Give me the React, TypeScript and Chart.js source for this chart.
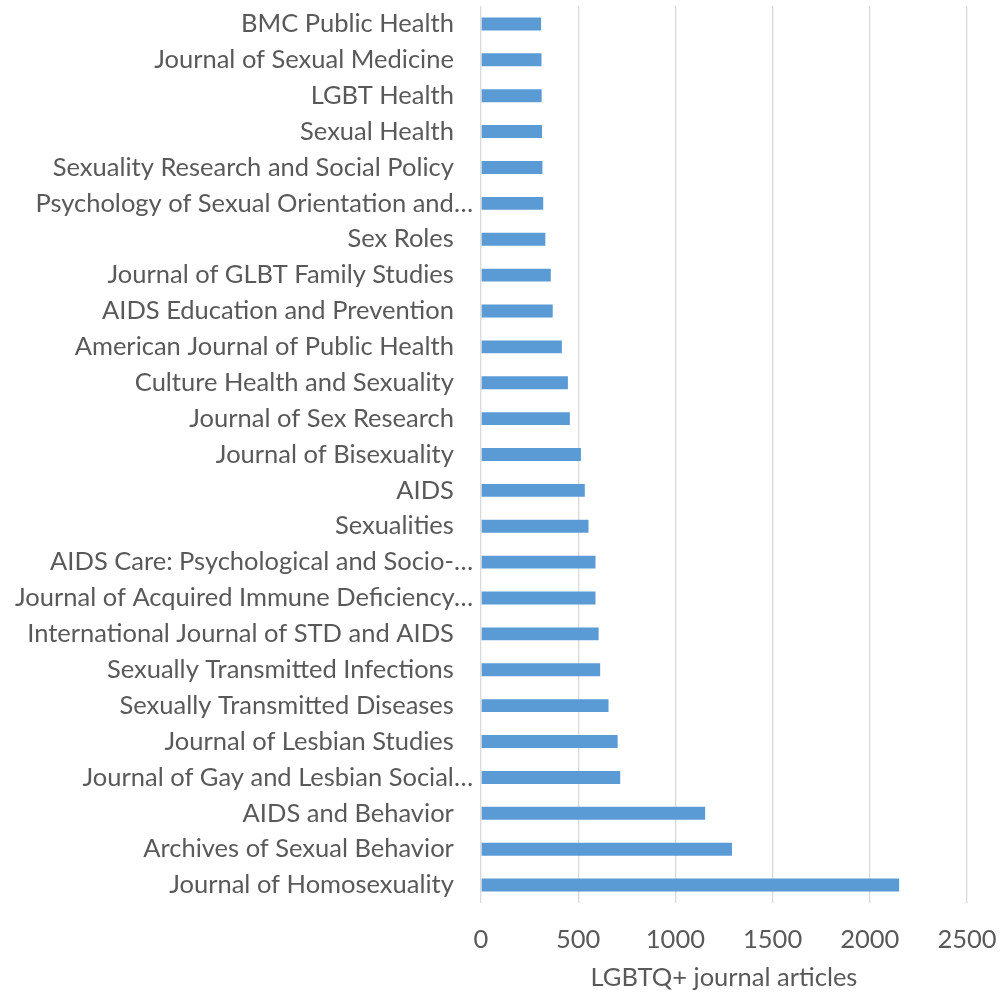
import React, { useEffect, useRef } from "react";
import { Chart, registerables } from "chart.js";

Chart.register(...registerables);

const journals: string[] = [
  "BMC Public Health",
  "Journal of Sexual Medicine",
  "LGBT Health",
  "Sexual Health",
  "Sexuality Research and Social Policy",
  "Psychology of Sexual Orientation and…",
  "Sex Roles",
  "Journal of GLBT Family Studies",
  "AIDS Education and Prevention",
  "American Journal of Public Health",
  "Culture Health and Sexuality",
  "Journal of Sex Research",
  "Journal of Bisexuality",
  "AIDS",
  "Sexualities",
  "AIDS Care: Psychological and Socio-…",
  "Journal of Acquired Immune Deficiency…",
  "International Journal of STD and AIDS",
  "Sexually Transmitted Infections",
  "Sexually Transmitted Diseases",
  "Journal of Lesbian Studies",
  "Journal of Gay and Lesbian Social…",
  "AIDS and Behavior",
  "Archives of Sexual Behavior",
  "Journal of Homosexuality",
];

const articleCounts: number[] = [
  309, 311, 312, 314, 316, 320, 331, 359, 369, 416, 447, 457, 514, 534, 553,
  589, 589, 605, 613, 656, 703, 716, 1153, 1291, 2151,
];

const xTicks: number[] = [0, 500, 1000, 1500, 2000, 2500];
const xTitle = "LGBTQ+ journal articles";

const FONT = "Lato, 'Open Sans', sans-serif";
const TEXT = "#595959";
const FS = 25.5;

export default function App() {
  const ref = useRef<HTMLCanvasElement | null>(null);
  useEffect(() => {
    if (!ref.current) return;
    const chart = new Chart(ref.current, {
      type: "bar",
      data: {
        labels: journals,
        datasets: [
          {
            data: articleCounts,
            backgroundColor: "#5B9BD5",
            borderWidth: 0,
            barPercentage: 0.72,
            categoryPercentage: 0.5,
          },
        ],
      },
      options: {
        indexAxis: "y",
        animation: false,
        responsive: false,
        maintainAspectRatio: false,
        layout: { padding: { top: 6, right: 33, left: 0, bottom: 0 } },
        plugins: {
          legend: { display: false },
          tooltip: { enabled: false },
        },
        scales: {
          x: {
            min: 0,
            max: 2500,
            afterBuildTicks: (scale: any) => {
              scale.ticks = xTicks.map((v) => ({ value: v }));
            },
            afterFit: (scale: any) => {
              scale.height = 91;
              scale.paddingRight = 0;
              scale.paddingLeft = 0;
            },
            grid: {
              color: "#D9D9D9",
              lineWidth: 1.3,
              drawTicks: false,
            },
            border: { display: false },
            ticks: {
              color: TEXT,
              font: { family: FONT, size: FS },
              padding: 21,
              maxRotation: 0,
              callback: (v: any) => String(v),
            },
            title: {
              display: true,
              text: xTitle,
              color: TEXT,
              font: { family: FONT, size: FS },
              padding: { top: 0, bottom: 1 },
            },
          },
          y: {
            afterFit: (scale: any) => {
              scale.width = 481;
              scale.paddingTop = 0;
              scale.paddingBottom = 0;
            },
            grid: { display: false, drawTicks: false },
            border: { display: false },
            ticks: {
              color: TEXT,
              font: { family: FONT, size: FS },
              padding: 8,
              autoSkip: false,
              callback: function (this: any, value: any) {
                const l = this.getLabelForValue(value) as string;
                return l.endsWith("…") ? l : l + "\u2003";
              },
            },
          },
        },
      },
    });
    return () => chart.destroy();
  }, []);
  return (
    <div style={{ position: "absolute", left: 0, top: 0, width: 1000, height: 994, background: "#fff" }}>
      <canvas ref={ref} width={1000} height={994} style={{ width: 1000, height: 994 }} />
    </div>
  );
}
